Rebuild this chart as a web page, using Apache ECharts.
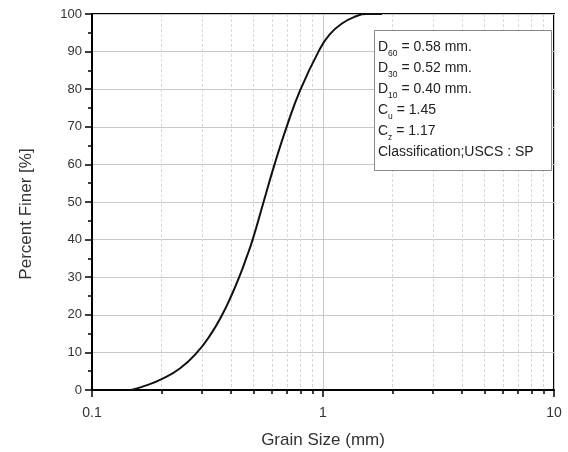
<!DOCTYPE html>
<html>
<head>
<meta charset="utf-8">
<script src="https://cdn.jsdelivr.net/npm/echarts@6/dist/echarts.min.js"></script>
<style>html,body{margin:0;padding:0;background:#fff;}#c{width:568px;height:452px;}</style>
</head>
<body>
<div id="c"></div>
<script>
// Data
const grainSize = [0.148, 0.173, 0.2, 0.24, 0.285, 0.328, 0.366, 0.4005, 0.4336, 0.4649, 0.496, 0.553, 0.617, 0.696, 0.80, 0.956, 1.067, 1.218, 1.391, 1.537, 1.8];
const percentFiner = [0, 1.3, 2.9, 5.7, 10, 15, 20, 25, 30, 35, 40, 50, 60, 70, 80, 90, 94.5, 97.6, 99.4, 100, 100];
const xMajorTicks = [0.1, 1, 10];
const xMinorTicks = [0.2, 0.3, 0.4, 0.5, 0.6, 0.7, 0.8, 0.9, 2, 3, 4, 5, 6, 7, 8, 9];
const infoLines = [
  ['D', '60', ' = 0.58 mm.'],
  ['D', '30', ' = 0.52 mm.'],
  ['D', '10', ' = 0.40 mm.'],
  ['C', 'u', ' = 1.45'],
  ['C', 'z', ' = 1.17'],
  ['Classification;USCS : SP', '', '']
];

const FONT = 'Liberation Sans, Arial, sans-serif';
const chart = echarts.init(document.getElementById('c'), null, {renderer: 'canvas'});

const infoText = infoLines.map(l => l[1] ? '{m|' + l[0] + '}{s|' + l[1] + '}{m|' + l[2] + '}' : '{m|' + l[0] + '}').join('\n');

chart.setOption({
  animation: false,
  backgroundColor: '#fff',
  grid: {left: 92, right: 14, top: 14, bottom: 62, outerBoundsMode: 'none', containLabel: false,
    show: true, borderColor: '#000', borderWidth: 2, backgroundColor: 'transparent'},
  xAxis: [
    {
      type: 'log', logBase: 10, min: 0.1, max: 10, position: 'bottom',
      name: 'Grain Size (mm)', nameLocation: 'middle', nameGap: 42,
      nameTextStyle: {fontFamily: FONT, fontSize: 17, color: '#333'},
      axisLine: {show: true, lineStyle: {color: '#000', width: 2}},
      axisTick: {show: true, length: 7, lineStyle: {color: '#000', width: 1.5}, customValues: xMajorTicks},
      axisLabel: {fontFamily: FONT, fontSize: 14, color: '#333', margin: 16, customValues: xMajorTicks,
        formatter: v => String(v)},
      splitLine: {show: true, lineStyle: {color: '#c8c8c8', width: 1}},
      minorTick: {show: false}
    },
    {
      type: 'log', logBase: 10, min: 0.1, max: 10, position: 'bottom',
      axisLine: {show: false},
      axisTick: {show: true, length: 4, lineStyle: {color: '#000', width: 1.5}, customValues: xMinorTicks},
      axisLabel: {show: false},
      splitLine: {show: true, lineStyle: {color: '#d8d8d8', width: 1, type: [3, 2]}}
    }
  ],
  yAxis: {
    type: 'value', min: 0, max: 100, interval: 10,
    name: 'Percent Finer [%]', nameLocation: 'middle', nameGap: 57,
    nameTextStyle: {fontFamily: FONT, fontSize: 17, color: '#333', padding: [0, 24, 0, 0]},
    axisLine: {show: true, lineStyle: {color: '#000', width: 2}},
    axisTick: {show: true, length: 7, lineStyle: {color: '#000', width: 1.5}},
    minorTick: {show: true, splitNumber: 2, length: 4, lineStyle: {color: '#000', width: 1.5}},
    axisLabel: {fontFamily: FONT, fontSize: 13, color: '#333', margin: 10},
    splitLine: {show: true, lineStyle: {color: '#c8c8c8', width: 1}}
  },
  series: [{
    type: 'line', xAxisIndex: 0,
    data: grainSize.map((g, i) => [g, percentFiner[i]]),
    smooth: 0.5, showSymbol: false, symbol: 'none',
    lineStyle: {color: '#111', width: 2}, z: 5
  }],
  graphic: [
    {type: 'rect', left: 374, top: 30, z: 100, shape: {x: 0, y: 0, width: 177, height: 140},
      style: {fill: '#ffffff', stroke: '#888', lineWidth: 1}},
    {type: 'text', left: 378, top: 40, z: 101,
      style: {text: infoText, fill: '#222',
        rich: {
          m: {fontFamily: FONT, fontSize: 14, lineHeight: 21, fill: '#222'},
          s: {fontFamily: FONT, fontSize: 8.5, lineHeight: 21, fill: '#222', verticalAlign: 'bottom', padding: [9, 0, 0, 0]}
        }}}
  ]
});
</script>
</body>
</html>
